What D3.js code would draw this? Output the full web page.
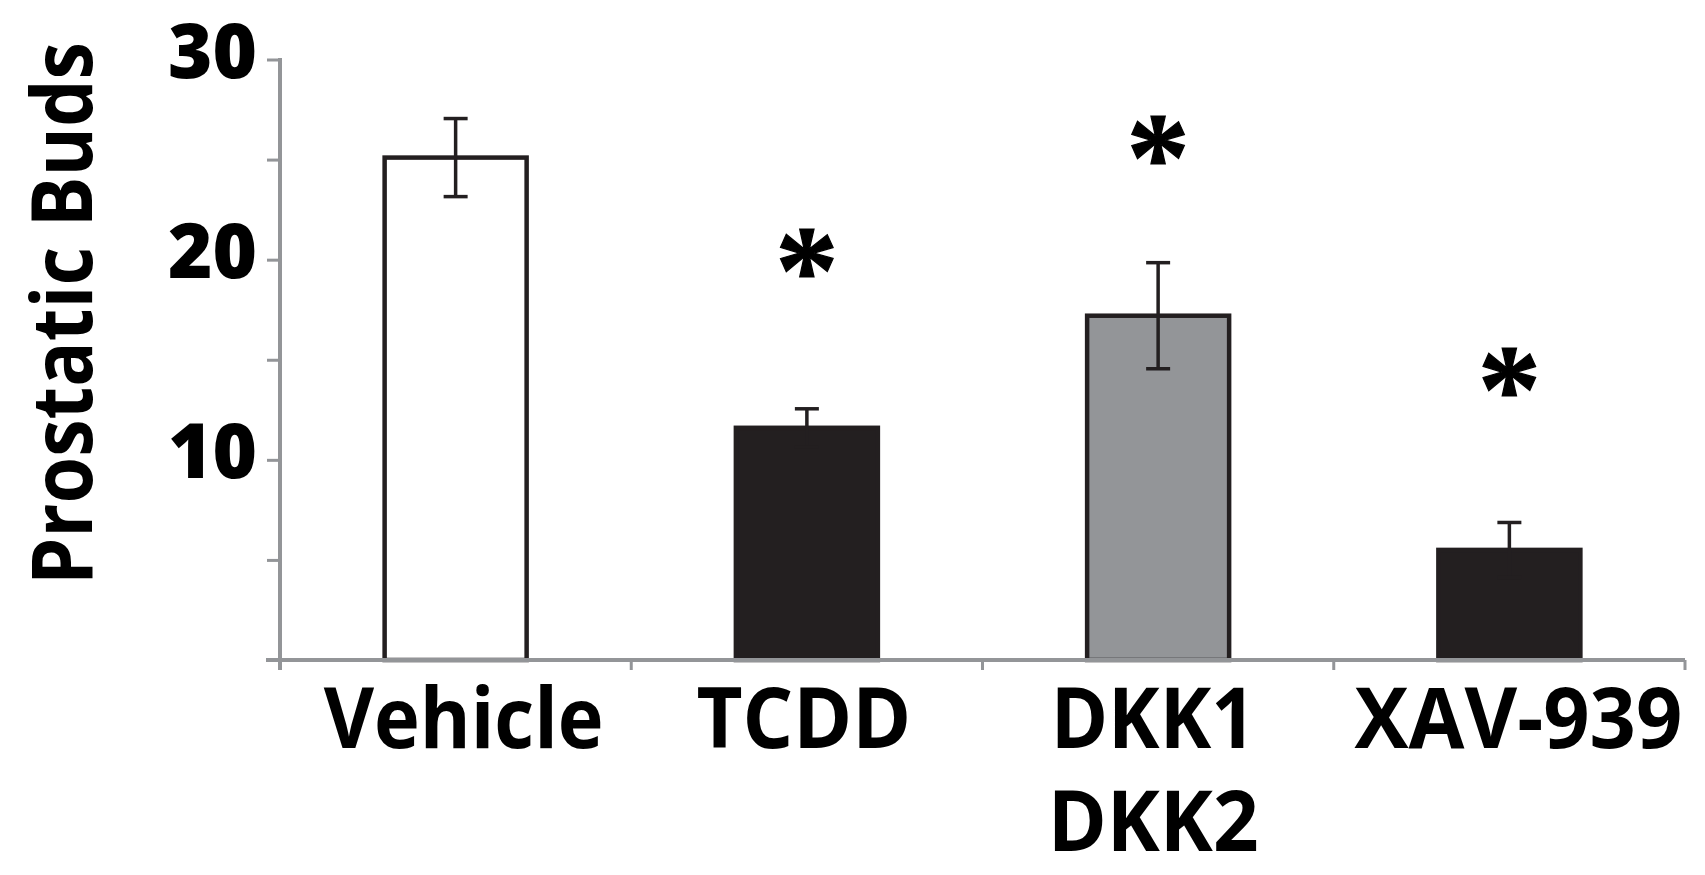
<!DOCTYPE html>
<html><head><meta charset="utf-8">
<script src="https://cdn.jsdelivr.net/npm/d3@7/dist/d3.min.js"></script>
<style>body{margin:0;background:#fff}svg{display:block}</style>
</head><body>
<svg id="chart" width="1705" height="875"></svg>
<script>
// ---- data ----
const categories = ["Vehicle", "TCDD", "DKK1/DKK2", "XAV-939"];
const categoryLines = [["Vehicle"], ["TCDD"], ["DKK1", "DKK2"], ["XAV-939"]];
const means = [25.1, 11.6, 17.2, 5.5];
const errors = [1.95, 0.95, 2.65, 1.37];
const starLevels = [null, 20.35, 26.0, 14.4];
const yTickValues = [0, 5, 10, 15, 20, 25, 30];
const yTickLabels = ["", "", "10", "", "20", "", "30"];
const yTitle = "Prostatic Buds";
const barFills = ["#ffffff", "#231f20", "#939598", "#231f20"];

// ---- layout ----
const dark = "#231f20", axisGray = "#939598";
const svg = d3.select("#chart");
svg.append("rect").attr("width", 1705).attr("height", 875).attr("fill", "#fff");

const x = d3.scaleBand().domain(categories).range([280, 1685]).padding(0);
const y = d3.scaleLinear().domain([0, 30]).range([660, 59.5]);
const barW = 142;
const cx = c => x(c) + x.bandwidth() / 2;

// bars
svg.append("g").selectAll("rect").data(categories).join("rect")
  .attr("x", c => cx(c) - barW / 2)
  .attr("y", (c, i) => y(means[i]))
  .attr("width", barW)
  .attr("height", (c, i) => y(0) - y(means[i]))
  .attr("fill", (c, i) => barFills[i])
  .attr("stroke", dark).attr("stroke-width", 4.5);

// error bars
const eb = svg.append("g").attr("stroke", dark).attr("stroke-width", 3.5).attr("fill", "none");
categories.forEach((c, i) => {
  const lo = y(means[i] - errors[i]), hi = y(means[i] + errors[i]), xc = cx(c);
  eb.append("line").attr("x1", xc).attr("x2", xc).attr("y1", lo).attr("y2", hi);
  eb.append("line").attr("x1", xc - 12).attr("x2", xc + 12).attr("y1", hi).attr("y2", hi);
  eb.append("line").attr("x1", xc - 12).attr("x2", xc + 12).attr("y1", lo).attr("y2", lo);
});

// y axis
const yAxis = d3.axisLeft(y).tickValues(yTickValues).tickSize(13).tickPadding(10)
  .tickFormat((d, i) => yTickLabels[i]);
const gy = svg.append("g").attr("transform", "translate(280,0)").call(yAxis);
gy.select(".domain").remove();
gy.selectAll(".tick line").attr("stroke", axisGray).attr("stroke-width", 3);
gy.selectAll(".tick text")
  .attr("font-family", "'Open Sans', sans-serif").attr("font-weight", 800)
  .attr("font-size", 76).attr("fill", "#000").attr("dy", 18);
gy.append("line").attr("x1", 0).attr("x2", 0).attr("y1", y(30) - 1.5).attr("y2", y(0) + 10)
  .attr("stroke", axisGray).attr("stroke-width", 4);

// x axis (ticks at category boundaries)
const gx = svg.append("g");
gx.append("line").attr("x1", 266).attr("x2", x.range()[1]).attr("y1", y(0)).attr("y2", y(0))
  .attr("stroke", axisGray).attr("stroke-width", 4);
const bounds = d3.range(categories.length + 1).map(i => x.range()[0] + i * x.step());
gx.selectAll(".xt").data(bounds).join("line").attr("class", "xt")
  .attr("x1", d => d).attr("x2", d => d).attr("y1", y(0)).attr("y2", y(0) + 10)
  .attr("stroke", axisGray).attr("stroke-width", 3);

// x labels
const labelShift = [8, -3, -5, 9];
const labelWidths = [[280], [215], [205, 211], [328]];
const xl = svg.append("g").attr("font-family", "'Open Sans', sans-serif")
  .attr("font-weight", 700).attr("font-size", 85).attr("fill", "#000").attr("text-anchor", "middle");
categories.forEach((c, i) => {
  const t = xl.append("text").attr("y", y(0) + 88);
  categoryLines[i].forEach((line, j) => {
    t.append("tspan").attr("x", cx(c) + labelShift[i]).attr("dy", j === 0 ? 0 : 103)
      .attr("textLength", labelWidths[i][j]).attr("lengthAdjust", "spacingAndGlyphs")
      .text(line);
  });
});

// y title
svg.append("text")
  .attr("transform", "translate(92,313.5) rotate(-90)")
  .attr("text-anchor", "middle")
  .attr("font-family", "'Open Sans', sans-serif").attr("font-weight", 700)
  .attr("font-size", 84).attr("fill", "#000")
  .attr("textLength", 543).attr("lengthAdjust", "spacingAndGlyphs")
  .text(yTitle);

// significance stars
const ctx = document.createElement("canvas").getContext("2d");
const starFont = "'Liberation Serif', serif";
let fs = 100;
ctx.font = "bold " + fs + "px " + starFont;
let m = ctx.measureText("*");
let h = m.actualBoundingBoxAscent + m.actualBoundingBoxDescent;
fs = fs * 48 / h;
ctx.font = "bold " + fs + "px " + starFont;
m = ctx.measureText("*");
const off = (m.actualBoundingBoxAscent - m.actualBoundingBoxDescent) / 2;
categories.forEach((c, i) => {
  if (starLevels[i] == null) return;
  svg.append("text").attr("x", cx(c)).attr("y", y(starLevels[i]) + off)
    .attr("text-anchor", "middle").attr("font-family", starFont).attr("font-weight", 700)
    .attr("font-size", fs).attr("fill", "#000").attr("stroke", "#000").attr("stroke-width", 1.2)
    .text("*");
});
</script>
</body></html>
